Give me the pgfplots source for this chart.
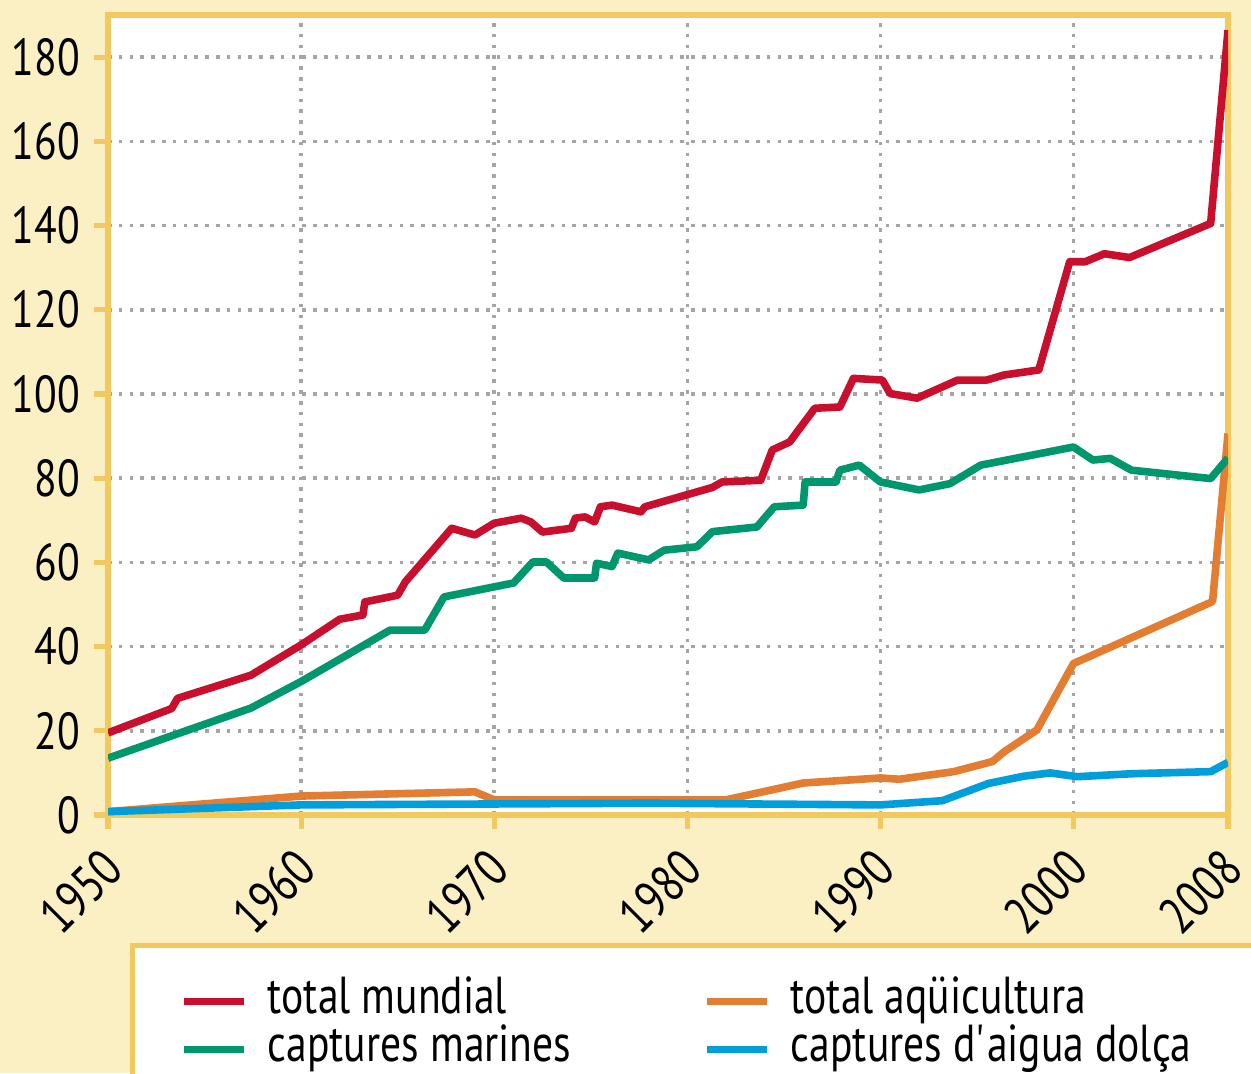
\documentclass[border=0pt]{standalone}
\usepackage{fontspec}
\setmainfont[FakeStretch=0.8]{PT Sans}
\usepackage{pgfplots}
\pgfplotsset{compat=1.18}
\definecolor{bgy}{RGB}{251,240,196}
\definecolor{gold}{RGB}{242,200,95}
\definecolor{cred}{RGB}{200,16,46}
\definecolor{cgreen}{RGB}{0,150,110}
\definecolor{corange}{RGB}{226,125,50}
\definecolor{cblue}{RGB}{0,158,218}
\definecolor{gridgray}{RGB}{165,165,165}

\pgfplotstableread{
x y
1950 19.5
1953.3 25.3
1953.6 27.7
1957.4 33.2
1960 40.4
1962 46.5
1963.2 47.5
1963.3 50.6
1965 52.2
1965.4 55.4
1967.8 68.1
1969 66.5
1970 69.3
1971.4 70.5
1971.9 69.6
1972.5 67.2
1974 68.1
1974.2 70.5
1974.7 70.8
1975.2 69.6
1975.5 73.2
1976.1 73.6
1977.6 72.0
1977.8 73.2
1981.3 77.8
1981.8 79.1
1983.8 79.5
1984.4 86.7
1985.3 88.6
1986.6 96.6
1987.9 96.9
1988.6 103.7
1990.1 103.3
1990.5 100.1
1991.9 99.0
1994.0 103.3
1995.5 103.3
1996.4 104.5
1998.2 105.7
1999.8 131.4
2000.6 131.4
2001.6 133.3
2002.9 132.4
2007.1 140.5
2008 186.4
}\totalmundial

\pgfplotstableread{
x y
1950 13.5
1957.4 25.4
1960 31.7
1964.6 43.9
1966.4 43.9
1967.4 51.8
1971 55.1
1972 60.1
1972.7 60.1
1973.6 56.3
1975.2 56.3
1975.3 59.8
1976.1 59.0
1976.4 62.2
1978 60.6
1978.8 62.9
1980.5 63.7
1981.3 67.3
1983.6 68.4
1984.5 73.2
1986 73.6
1986.1 79.1
1987.7 79.1
1987.9 81.9
1988.9 83.1
1990 79.1
1992 77.2
1993.6 78.7
1995.2 83.1
2000 87.4
2001 84.3
2001.9 84.7
2003 81.9
2007.1 79.9
2008 84.8
}\marines

\pgfplotstableread{
x y
1950 0.8
1960 4.5
1969 5.5
1970 3.6
1982 3.6
1986 7.6
1990 8.8
1991 8.5
1993.8 10.3
1995.8 12.7
1996.4 15.0
1998.1 20.2
2000 36.0
2000.8 37.6
2007.2 50.7
2008 90.6
}\aquicultura

\pgfplotstableread{
x y
1950 0.8
1960 2.4
1978 2.8
1990 2.4
1993.2 3.4
1995.6 7.5
1997.4 9.2
1998.8 10.0
2000.2 9.1
2003 9.8
2007.1 10.3
2008 12.5
}\dolca

\begin{document}
\begin{tikzpicture}
\useasboundingbox (0,0) rectangle (312.75pt,268.25pt);
\clip (0,0) rectangle (312.75pt,268.25pt);
\fill[bgy] (0,0) rectangle (312.75pt,268.25pt);
\begin{axis}[
  at={(27pt,64.5pt)}, anchor=south west,
  scale only axis, width=280pt, height=200pt,
  xmin=1950, xmax=2008, ymin=0, ymax=190,
  xtick={1950,1960,1970,1980,1990,2000,2008},
  ytick={0,20,...,180},
  axis background/.style={fill=white},
  axis line style={gold, line width=1.3pt},
  tick style={gold, line width=1.3pt},
  major tick length=3.5pt,
  tick align=outside, tick pos=left,
  grid=major,
  major grid style={gridgray, line width=0.9pt, dash pattern=on 0.9pt off 1.8pt},
  tick label style={font=\fontsize{13}{14}\selectfont},
  /pgf/number format/assume math mode=true,
  /pgf/number format/1000 sep={},
  xticklabel style={xshift=3.6pt, yshift=-5.2pt, rotate=45, anchor=east},
  legend columns=2,
  legend cell align=left,
  legend image code/.code={\draw[#1] (0pt,0pt) -- (15pt,0pt);},
  legend style={at={(0.0196,-0.16)}, anchor=north west, fill=white,
    draw=gold, line width=1.2pt, font=\fontsize{13}{14}\selectfont,
    inner xsep=12pt, inner ysep=8pt, row sep=0pt,
    /tikz/every even column/.append style={column sep=28pt},
    nodes={inner xsep=5pt, inner ysep=0pt, text height=9pt, text depth=3pt}},
  every axis plot/.append style={line width=1.9pt, line join=round},
]
\addplot[cred] table {\totalmundial};
\addlegendentry{total mundial}
\addplot[corange] table {\aquicultura};
\addlegendentry{total aqüicultura}
\addplot[cgreen] table {\marines};
\addlegendentry{captures marines}
\addplot[cblue] table {\dolca};
\addlegendentry{captures d\textquotesingle aigua dolça}
\end{axis}
\end{tikzpicture}
\end{document}
